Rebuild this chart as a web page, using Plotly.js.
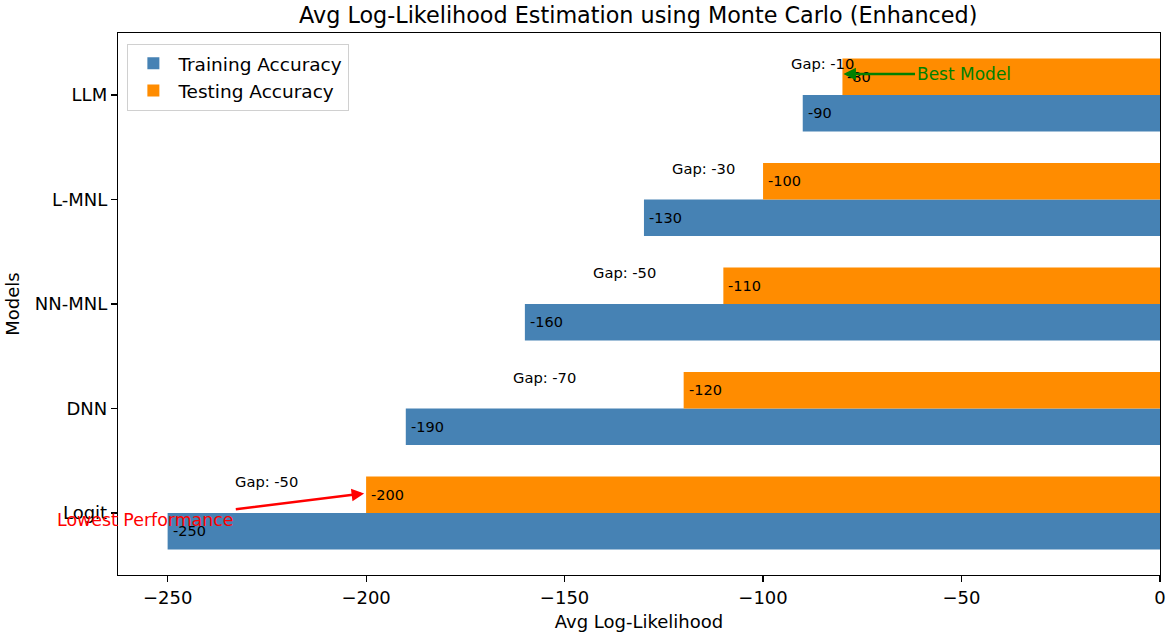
<!DOCTYPE html>
<html>
<head>
<meta charset="utf-8">
<script src="https://cdn.plot.ly/plotly-3.0.1.min.js"></script>
<style>html,body{margin:0;padding:0;background:#fff;}#chart{width:1170px;height:636px;}</style>
</head>
<body>
<div id="chart"></div>
<script>
const models = ["Logit", "DNN", "NN-MNL", "L-MNL", "LLM"];
const trainingValues = [-250, -190, -160, -130, -90];
const testingValues = [-200, -120, -110, -100, -80];
const gapValues = [-50, -70, -50, -30, -10];

const FONT = "DejaVu Sans, Liberation Sans, sans-serif";
const barW = 0.35;
const idx = models.map((m, i) => i);
const yTrain = idx.map(i => i - barW / 2);
const yTest = idx.map(i => i + barW / 2);

const traces = [
  {type: "bar", orientation: "h", name: "Training Accuracy", x: trainingValues, y: yTrain,
   width: barW, marker: {color: "#4682B4"}, hoverinfo: "x"},
  {type: "bar", orientation: "h", name: "Testing Accuracy", x: testingValues, y: yTest,
   width: barW, marker: {color: "#FF8C00"}, hoverinfo: "x"}
];

const annotations = [];
idx.forEach(i => {
  annotations.push({x: trainingValues[i], y: yTrain[i], text: String(trainingValues[i]), showarrow: false,
    xanchor: "left", yanchor: "middle", xshift: 3, font: {family: FONT, size: 14.5, color: "#000"}});
  annotations.push({x: testingValues[i], y: yTest[i], text: String(testingValues[i]), showarrow: false,
    xanchor: "left", yanchor: "middle", xshift: 3, font: {family: FONT, size: 14.5, color: "#000"}});
  annotations.push({x: (trainingValues[i] + testingValues[i]) / 2, y: i + 0.3, text: "Gap: " + gapValues[i],
    showarrow: false, xanchor: "center", yanchor: "middle", font: {family: FONT, size: 14.7, color: "#000"}});
});
annotations.push({x: testingValues[4], y: 4.2, ax: -49.5, ay: 4.2, axref: "x", ayref: "y",
  text: "Best Model", showarrow: true, arrowhead: 2, arrowsize: 1, arrowwidth: 2.5, arrowcolor: "green",
  standoff: 1, font: {family: FONT, size: 17, color: "green"}});
annotations.push({x: testingValues[0], y: 0.19, ax: -255.5, ay: -0.07, axref: "x", ayref: "y",
  text: "Lowest Performance", showarrow: true, arrowhead: 2, arrowsize: 1, arrowwidth: 2.5, arrowcolor: "red",
  standoff: 2, font: {family: FONT, size: 17.4, color: "red"}});

const layout = {
  width: 1170, height: 636,
  margin: {l: 118, r: 10, t: 33, b: 61},
  paper_bgcolor: "#fff", plot_bgcolor: "#fff",
  font: {family: FONT, size: 18, color: "#000"},
  title: {text: "Avg Log-Likelihood Estimation using Monte Carlo (Enhanced)", x: 0.5455, xanchor: "center",
    y: 0.976, yanchor: "middle", font: {family: FONT, size: 22.3, color: "#000"}},
  showlegend: true,
  legend: {x: 0.009, y: 0.98, xanchor: "left", yanchor: "top", bgcolor: "rgba(255,255,255,0.8)",
    bordercolor: "#d0d0d0", borderwidth: 1, traceorder: "normal", itemwidth: 40,
    font: {family: FONT, size: 18.5}},
  xaxis: {range: [-262.5, 0], tickvals: [-250, -200, -150, -100, -50, 0],
    ticktext: ["\u2212250", "\u2212200", "\u2212150", "\u2212100", "\u221250", "0"],
    ticks: "outside", ticklen: 6, tickwidth: 1.2, tickcolor: "#000", showgrid: false, zeroline: false,
    showline: true, linecolor: "#000", linewidth: 1.2, mirror: true,
    title: {text: "Avg Log-Likelihood", standoff: 8, font: {family: FONT, size: 18}},
    tickfont: {family: FONT, size: 18}},
  yaxis: {range: [-0.593, 4.593], tickvals: idx, ticktext: models,
    ticks: "outside", ticklen: 6, tickwidth: 1.2, tickcolor: "#000", showgrid: false, zeroline: false,
    showline: true, linecolor: "#000", linewidth: 1.2, mirror: true,
    title: {text: "Models", standoff: 10, font: {family: FONT, size: 18}},
    tickfont: {family: FONT, size: 18}},
  annotations: annotations
};

Plotly.newPlot("chart", traces, layout, {displayModeBar: false, staticPlot: true});
</script>
</body>
</html>
